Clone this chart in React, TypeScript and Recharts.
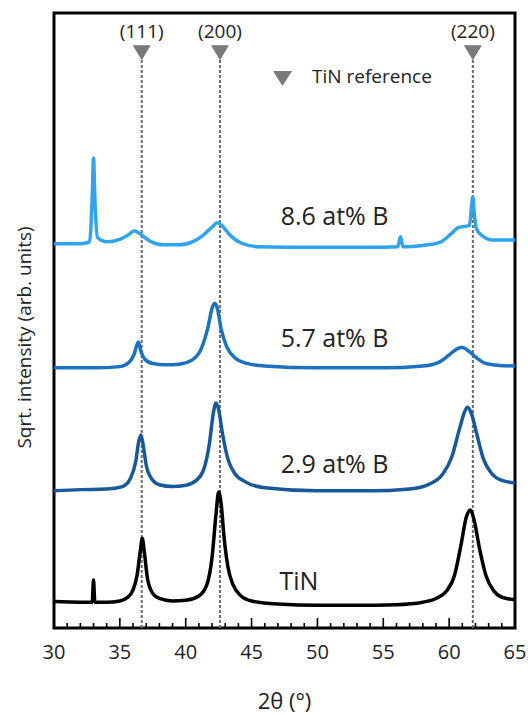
import { LineChart, Line, XAxis, YAxis, ReferenceLine, ReferenceArea, ReferenceDot, Legend } from 'recharts'

const FONT = '"Open Sans", "Noto Sans", sans-serif'

// 2θ (deg), sqrt intensity (offset, arb. units)
const tinPattern: [number, number][] = [
  [30, 4.3], [32, 4.2], [32.9, 4.2], [33.0, 7.8], [33.1, 4.2], [34, 4.2], [35, 4.4],
  [35.6, 5.0], [36.0, 6.2], [36.3, 8.5], [36.55, 12.5], [36.7, 14.6], [36.85, 12.5],
  [37.1, 8.0], [37.5, 5.6], [38, 4.8], [39, 4.4], [40, 4.5], [41, 5.2], [41.6, 7.0],
  [42.0, 11.5], [42.3, 18.5], [42.5, 22.1], [42.7, 20.0], [42.9, 15.0], [43.2, 10.0],
  [43.6, 7.0], [44.2, 5.2], [45, 4.4], [47, 3.9], [50, 3.7], [53, 3.7], [56, 3.8],
  [58, 4.2], [59, 4.8], [59.8, 6.0], [60.4, 8.5], [60.9, 13.5], [61.3, 18.0], [61.6, 19.2],
  [61.9, 17.5], [62.3, 13.0], [62.8, 8.5], [63.4, 6.0], [64, 5.0], [65, 4.6],
]

const b29Pattern: [number, number][] = [
  [30, 22.3], [32, 22.5], [34, 22.6], [35.2, 23.0], [35.8, 24.3], [36.2, 27.0],
  [36.45, 30.5], [36.6, 31.4], [36.75, 30.0], [37.0, 26.5], [37.4, 24.3], [38, 23.3],
  [39, 23.0], [40, 23.2], [40.8, 24.0], [41.4, 26.0], [41.8, 30.0], [42.1, 35.0],
  [42.3, 36.6], [42.5, 35.5], [42.8, 31.5], [43.2, 27.5], [43.7, 25.2], [44.5, 23.8],
  [46, 22.8], [50, 22.3], [54, 22.3], [57, 22.6], [58.5, 23.4], [59.5, 25.0], [60.2, 27.8],
  [60.8, 32.5], [61.2, 35.3], [61.4, 35.9], [61.7, 34.8], [62.1, 31.5], [62.6, 27.5],
  [63.2, 25.2], [64, 24.0], [65, 23.6],
]

const b57Pattern: [number, number][] = [
  [30, 42.3], [33, 42.3], [35, 42.5], [35.7, 43.2], [36.1, 44.6], [36.4, 46.5],
  [36.6, 45.0], [36.9, 43.7], [37.5, 43.0], [38.5, 42.8], [39.5, 42.9], [40.5, 43.6],
  [41.2, 45.5], [41.7, 49.0], [42.0, 52.0], [42.2, 52.8], [42.4, 52.0], [42.7, 48.5],
  [43.1, 45.8], [43.7, 44.0], [44.5, 43.1], [46, 42.6], [50, 42.3], [55, 42.3], [58, 42.6],
  [59.2, 43.2], [60.0, 44.4], [60.6, 45.4], [61.0, 45.6], [61.5, 45.0], [62.1, 43.9],
  [62.8, 43.0], [63.8, 42.7], [65, 42.6],
]

const b86Pattern: [number, number][] = [
  [30, 62.5], [32, 62.5], [32.7, 62.8], [32.9, 70.0], [33.0, 76.4], [33.1, 70.0],
  [33.3, 63.5], [34, 62.8], [35, 63.2], [35.7, 64.0], [36.1, 64.6], [36.6, 64.0],
  [37.3, 62.9], [38.3, 62.3], [39.5, 62.3], [40.5, 62.8], [41.3, 63.8], [42.0, 65.2],
  [42.4, 65.9], [42.8, 65.3], [43.4, 63.8], [44.2, 62.6], [45.5, 62.0], [50, 61.9],
  [54, 61.9], [56.1, 62.0], [56.3, 63.6], [56.5, 62.0], [58, 62.2], [59.3, 62.7],
  [60.1, 64.0], [60.7, 65.1], [61.2, 65.3], [61.55, 65.5], [61.7, 68.5], [61.8, 70.1],
  [61.9, 67.5], [62.05, 65.0], [62.5, 63.8], [63.3, 63.1], [65, 63.1],
]

const seriesNames = ['TiN', '2.9 at% B', '5.7 at% B', '8.6 at% B']
const seriesColors = ['#000000', '#17599a', '#1a72c0', '#2ea3ee']
const seriesPatterns = [tinPattern, b29Pattern, b57Pattern, b86Pattern]

const refPeaks = [36.66, 42.6, 61.8]
const refLabels = ['(111)', '(200)', '(220)']

const majorTicks = [30, 35, 40, 45, 50, 55, 60, 65]
const allTicks = Array.from({ length: 36 }, (_, i) => 30 + i)

const toRows = (pts: [number, number][]) => pts.map(([t, i]) => ({ t, i }))

const XTick = (props: any) => {
  const { x, y, payload } = props
  const major = majorTicks.includes(payload.value)
  return (
    <g>
      <line x1={x} y1={y} x2={x} y2={y - (major ? 10 : 5)} stroke="#000" strokeWidth={1.6} />
      {major && (
        <text x={x} y={y + 23} textAnchor="middle" dominantBaseline="central" fontSize={20} fill="#222" fontFamily={FONT}>
          {payload.value}
        </text>
      )}
    </g>
  )
}

const RefMarker = (props: any) => {
  const { viewBox, text } = props
  const x = viewBox.x
  const y = viewBox.y
  return (
    <g>
      <polygon points={`${x - 9},${y - 12} ${x + 9},${y - 12} ${x},${y + 3}`} fill="#7a7a7a" />
      <text x={x} y={y - 26} textAnchor="middle" dominantBaseline="central" fontSize={19} fill="#222" fontFamily={FONT}>
        {text}
      </text>
    </g>
  )
}

const SeriesLabel = (props: any) => {
  const { viewBox, text } = props
  return (
    <text x={viewBox.x} y={viewBox.y} textAnchor="middle" dominantBaseline="central" fontSize={25} fill="#222" fontFamily={FONT}>
      {text}
    </text>
  )
}

const labelSpots = [
  { x: 48.6, y: 7.8 },
  { x: 51.3, y: 26.8 },
  { x: 51.3, y: 47.3 },
  { x: 51.3, y: 67.2 },
]

const RefLegend = () => (
  <div style={{ display: 'flex', alignItems: 'center', fontFamily: FONT, fontSize: 19, color: '#222', whiteSpace: 'nowrap' }}>
    <svg width={20} height={16} style={{ marginRight: 19, marginTop: 4 }}>
      <polygon points="0,1 19,1 9.5,16" fill="#7a7a7a" />
    </svg>
    <span>TiN reference</span>
  </div>
)

export default function App() {
  return (
    <div style={{ width: 528, height: 715, overflow: 'hidden' }}>
      <style>{'body { margin: 0; }'}</style>
      <LineChart width={528} height={715} margin={{ top: 13, right: 13, bottom: 0, left: 16 }}>
        <XAxis
          type="number"
          dataKey="t"
          domain={[30, 65]}
          ticks={allTicks}
          interval={0}
          tick={<XTick />}
          tickSize={0}
          tickMargin={0}
          tickLine={false}
          axisLine={false}
          height={87}
          allowDataOverflow
          label={(p: any) => (
            <text x={p.viewBox.x + p.viewBox.width / 2} y={p.viewBox.y + 72} textAnchor="middle" dominantBaseline="central" fontSize={22} fill="#222" fontFamily={FONT}>
              2θ (°)
            </text>
          )}
        />
        <YAxis
          type="number"
          domain={[0, 100]}
          width={38}
          tick={false}
          tickLine={false}
          axisLine={false}
          allowDataOverflow
          label={(p: any) => {
            const cx = p.viewBox.x + 8
            const cy = p.viewBox.y + p.viewBox.height / 2 + 17
            return (
              <text x={cx} y={cy} transform={`rotate(-90 ${cx} ${cy})`} textAnchor="middle" dominantBaseline="central" fontSize={19} fill="#222" fontFamily={FONT}>
                Sqrt. intensity (arb. units)
              </text>
            )
          }}
        />
        <Legend
          verticalAlign="middle"
          align="center"
          layout="horizontal"
          content={<RefLegend />}
          wrapperStyle={{ left: 273, top: 63, width: 'auto' }}
        />
        {refPeaks.map((p, i) => (
          <ReferenceLine
            key={`ref-${i}`}
            segment={[{ x: p, y: 0 }, { x: p, y: 92.8 }]}
            stroke="#6b6b6b"
            strokeWidth={2}
            strokeDasharray="3 2"
            label={(lp: any) => <RefMarker {...lp} text={refLabels[i]} />}
          />
        ))}
        {seriesPatterns.map((pts, i) => (
          <Line
            key={seriesNames[i]}
            data={toRows(pts)}
            dataKey="i"
            name={seriesNames[i]}
            type="monotone"
            stroke={seriesColors[i]}
            strokeWidth={3.5}
            dot={false}
            isAnimationActive={false}
          />
        ))}
        {seriesNames.map((n, i) => (
          <ReferenceDot
            key={`lab-${i}`}
            x={labelSpots[i].x}
            y={labelSpots[i].y}
            r={0}
            stroke="none"
            fill="none"
            label={(lp: any) => <SeriesLabel {...lp} text={n} />}
          />
        ))}
        <ReferenceArea x1={30} x2={65} y1={0} y2={100} fill="none" stroke="#000" strokeWidth={3} ifOverflow="visible" />
      </LineChart>
    </div>
  )
}
